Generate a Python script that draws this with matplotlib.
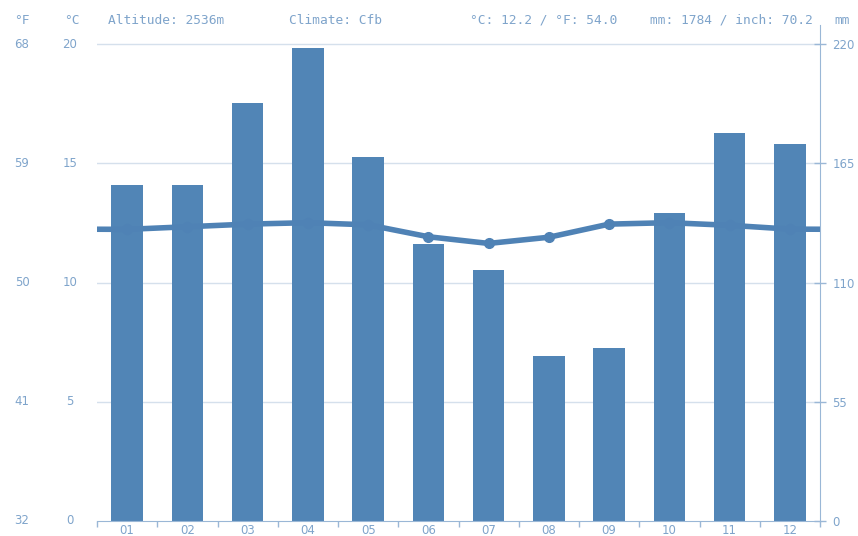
import numpy as np
import matplotlib.pyplot as plt
from matplotlib.transforms import blended_transform_factory

months = ['01', '02', '03', '04', '05', '06', '07', '08', '09', '10', '11', '12']
precip_mm = [155, 155, 193, 218, 168, 128, 116, 76, 80, 142, 179, 174]
temp_c = [12.23, 12.34, 12.45, 12.51, 12.42, 11.92, 11.64, 11.90, 12.45, 12.51, 12.40, 12.24]
c_ticks = [0, 5, 10, 15, 20]
f_ticks = [32, 41, 50, 59, 68]
mm_ticks = [0, 55, 110, 165, 220]

header_left = 'Altitude: 2536m'
header_climate = 'Climate: Cfb'
header_temp = '°C: 12.2 / °F: 54.0'
header_rain = 'mm: 1784 / inch: 70.2'

bar_col = '#5185b6'
txt_col = '#7fa4cb'
grid_col = '#d5e0ec'
axis_col = '#9ab7d6'

fig = plt.figure(figsize=(8.58, 5.36), dpi=100)
top_c = 20.8
ax = fig.add_axes([97 / 858, 1 - 521 / 536, 723 / 858, (521 - 25) / 536])
axt = ax.twinx()
x = np.arange(len(months))

# grid (temperature scale)
for v in c_ticks[1:]:
    ax.axhline(v * 220 / 20, color=grid_col, lw=1, zorder=0)

ax.bar(x, precip_mm, width=0.52, color=bar_col, zorder=2)
ax.set_xlim(-0.5, 11.5)
ax.set_ylim(0, 220 * top_c / 20)

ax.spines['top'].set_visible(False)
ax.spines['left'].set_visible(False)
ax.spines['right'].set_color(axis_col)
ax.spines['bottom'].set_color(axis_col)

ax.yaxis.tick_right()
ax.set_yticks(mm_ticks)
ax.set_yticklabels([str(v) for v in mm_ticks])
ax.tick_params(axis='y', colors=axis_col, labelcolor=txt_col, labelsize=8.5,
               direction='inout', length=8, width=1, pad=5)

ax.set_xticks(np.arange(-0.5, 12, 1))
ax.set_xticklabels([])
ax.set_xticks(x, minor=True)
ax.set_xticklabels(months, minor=True)
ax.tick_params(axis='x', which='major', colors=axis_col, direction='out', length=4, width=1)
ax.tick_params(axis='x', which='minor', length=0, labelcolor=txt_col, labelsize=8.5, pad=2)

# temperature line on twin axis
axt.set_ylim(0, top_c)
axt.set_axis_off()
tx = np.concatenate([[-0.5], x, [11.5]])
edge = (temp_c[0] + temp_c[-1]) / 2
ty = np.concatenate([[edge], temp_c, [edge]])
axt.plot(tx, ty, color='#4f82b5', lw=4, zorder=3, solid_capstyle='butt')
axt.plot(x, temp_c, 'o', color='#4f82b5', ms=7, zorder=4)

# left labels
tr = blended_transform_factory(fig.transFigure, ax.transData)
for c, f in zip(c_ticks, f_ticks):
    y = c * 220 / 20
    ax.text(22 / 858, y, str(f), transform=tr, ha='center', va='center', color=txt_col, fontsize=8.5)
    ax.text(70 / 858, y, str(c), transform=tr, ha='center', va='center', color=txt_col, fontsize=8.5)

hy = 1 - 20 / 536
mono = 'DejaVu Sans Mono'
hs = 9.3
fig.text(22 / 858, hy, '°F', ha='center', va='center', color=txt_col, fontsize=hs, family=mono)
fig.text(72 / 858, hy, '°C', ha='center', va='center', color=txt_col, fontsize=hs, family=mono)
fig.text(108 / 858, hy, header_left, ha='left', va='center', color=txt_col, fontsize=hs, family=mono)
fig.text(289 / 858, hy, header_climate, ha='left', va='center', color=txt_col, fontsize=hs, family=mono)
fig.text(470 / 858, hy, header_temp, ha='left', va='center', color=txt_col, fontsize=hs, family=mono)
fig.text(650 / 858, hy, header_rain, ha='left', va='center', color=txt_col, fontsize=hs, family=mono)
fig.text(834 / 858, hy, 'mm', ha='left', va='center', color=txt_col, fontsize=hs, family=mono)

fig.savefig('out.png', dpi=100)
